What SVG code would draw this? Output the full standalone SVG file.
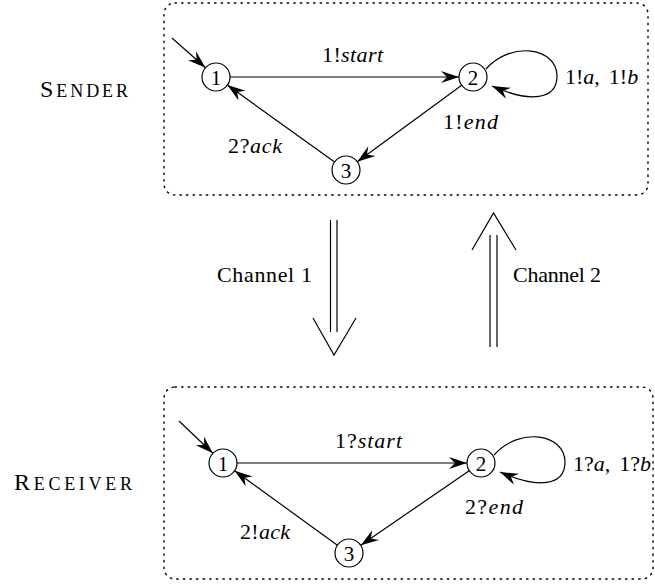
<svg xmlns="http://www.w3.org/2000/svg" width="655" height="588" viewBox="0 0 655 588">
<style>
text{font-family:'Liberation Serif','Times New Roman',serif;fill:#000}
.lbl{font-size:22px}
.it{font-style:italic}
.cap{font-size:24px}
.sc{font-size:18px}
.node circle{fill:#fff;stroke:#000;stroke-width:1.2}
.node text{font-size:21px;text-anchor:middle}
.box{fill:none;stroke:#000;stroke-width:1.4;stroke-dasharray:1.4 5.2;stroke-linecap:round}
.edge{fill:none;stroke:#000;stroke-width:1.2}
.ch{fill:none;stroke:#000;stroke-width:1.2}
</style>
<defs>
<marker id="ah" markerUnits="userSpaceOnUse" markerWidth="22" markerHeight="16" viewBox="-19 -8 20 16" refX="0" refY="0" orient="auto">
<path d="M0,0 L-18,-6 L-12,0 L-18,6 Z" fill="#000"/>
</marker>
</defs>
<rect class="box" x="164" y="3" width="484" height="192" rx="11"/>
<rect class="box" x="164" y="387" width="489" height="192" rx="11"/>
<text class="cap" x="40" y="97" textLength="88" lengthAdjust="spacing">S<tspan class="sc">ENDER</tspan></text>
<text class="cap" x="14" y="490" textLength="118" lengthAdjust="spacing">R<tspan class="sc">ECEIVER</tspan></text>
<g id="connectors">
<line class="edge" x1="172" y1="38" x2="205.5" y2="67.7" marker-end="url(#ah)"/>
<line class="edge" x1="230" y1="77" x2="459" y2="77" marker-end="url(#ah)"/>
<path class="edge" d="M486,69 C512,40 557,48 557,76 C557,100 530,103 492,86" marker-end="url(#ah)"/>
<line class="edge" x1="461.7" y1="85.3" x2="357.3" y2="161.7" marker-end="url(#ah)"/>
<line class="edge" x1="334.6" y1="161.9" x2="227.4" y2="85.1" marker-end="url(#ah)"/>
<line class="edge" x1="179" y1="421" x2="212.9" y2="453.3" marker-end="url(#ah)"/>
<line class="edge" x1="237" y1="463" x2="467" y2="463" marker-end="url(#ah)"/>
<path class="edge" d="M494,455 C520,426 565,434 565,462 C565,486 538,489 500,472" marker-end="url(#ah)"/>
<line class="edge" x1="469.2" y1="470.7" x2="360.8" y2="545.3" marker-end="url(#ah)"/>
<line class="edge" x1="337.4" y1="545.3" x2="234.6" y2="470.7" marker-end="url(#ah)"/>
<g id="channel1">
<line class="ch" x1="330.5" y1="220" x2="330.5" y2="332"/>
<line class="ch" x1="337" y1="220" x2="337" y2="332"/>
<polyline class="ch" points="313,318 334,355 356,318"/>
</g>
<g id="channel2">
<line class="ch" x1="490" y1="235" x2="490" y2="347"/>
<line class="ch" x1="497" y1="235" x2="497" y2="347"/>
<polyline class="ch" points="472,250 493.5,213 516,250"/>
</g>
</g>
<g id="edge-labels">
<text class="lbl" x="322" y="62" textLength="61" lengthAdjust="spacing">1!<tspan class="it">start</tspan></text>
<text class="lbl" x="565" y="84">1!<tspan class="it">a</tspan>,<tspan dx="9">1!</tspan><tspan class="it">b</tspan></text>
<text class="lbl" x="443" y="129" textLength="55" lengthAdjust="spacing">1!<tspan class="it">end</tspan></text>
<text class="lbl" x="228" y="153" textLength="54" lengthAdjust="spacing">2?<tspan class="it">ack</tspan></text>
<text class="lbl" x="335" y="448" textLength="67" lengthAdjust="spacing">1?<tspan class="it">start</tspan></text>
<text class="lbl" x="573" y="471">1?<tspan class="it">a</tspan>,<tspan dx="9">1?</tspan><tspan class="it">b</tspan></text>
<text class="lbl" x="465" y="514" textLength="58" lengthAdjust="spacing">2?<tspan class="it">end</tspan></text>
<text class="lbl" x="240" y="539" textLength="50" lengthAdjust="spacing">2!<tspan class="it">ack</tspan></text>
<text class="lbl" x="217" y="282" textLength="95" lengthAdjust="spacing">Channel 1</text>
<text class="lbl" x="513" y="282" textLength="88" lengthAdjust="spacing">Channel 2</text>
</g>
<g id="s1" class="node"><circle cx="216" cy="77" r="14"/><text x="216" y="84.5">1</text></g>
<g id="s2" class="node"><circle cx="473" cy="77" r="14"/><text x="473" y="84.5">2</text></g>
<g id="s3" class="node"><circle cx="346" cy="170" r="14"/><text x="346" y="177.5">3</text></g>
<g id="r1" class="node"><circle cx="223" cy="463" r="14"/><text x="223" y="470.5">1</text></g>
<g id="r2" class="node"><circle cx="481" cy="463" r="14"/><text x="481" y="470.5">2</text></g>
<g id="r3" class="node"><circle cx="349" cy="553" r="14"/><text x="349" y="560.5">3</text></g>
</svg>
